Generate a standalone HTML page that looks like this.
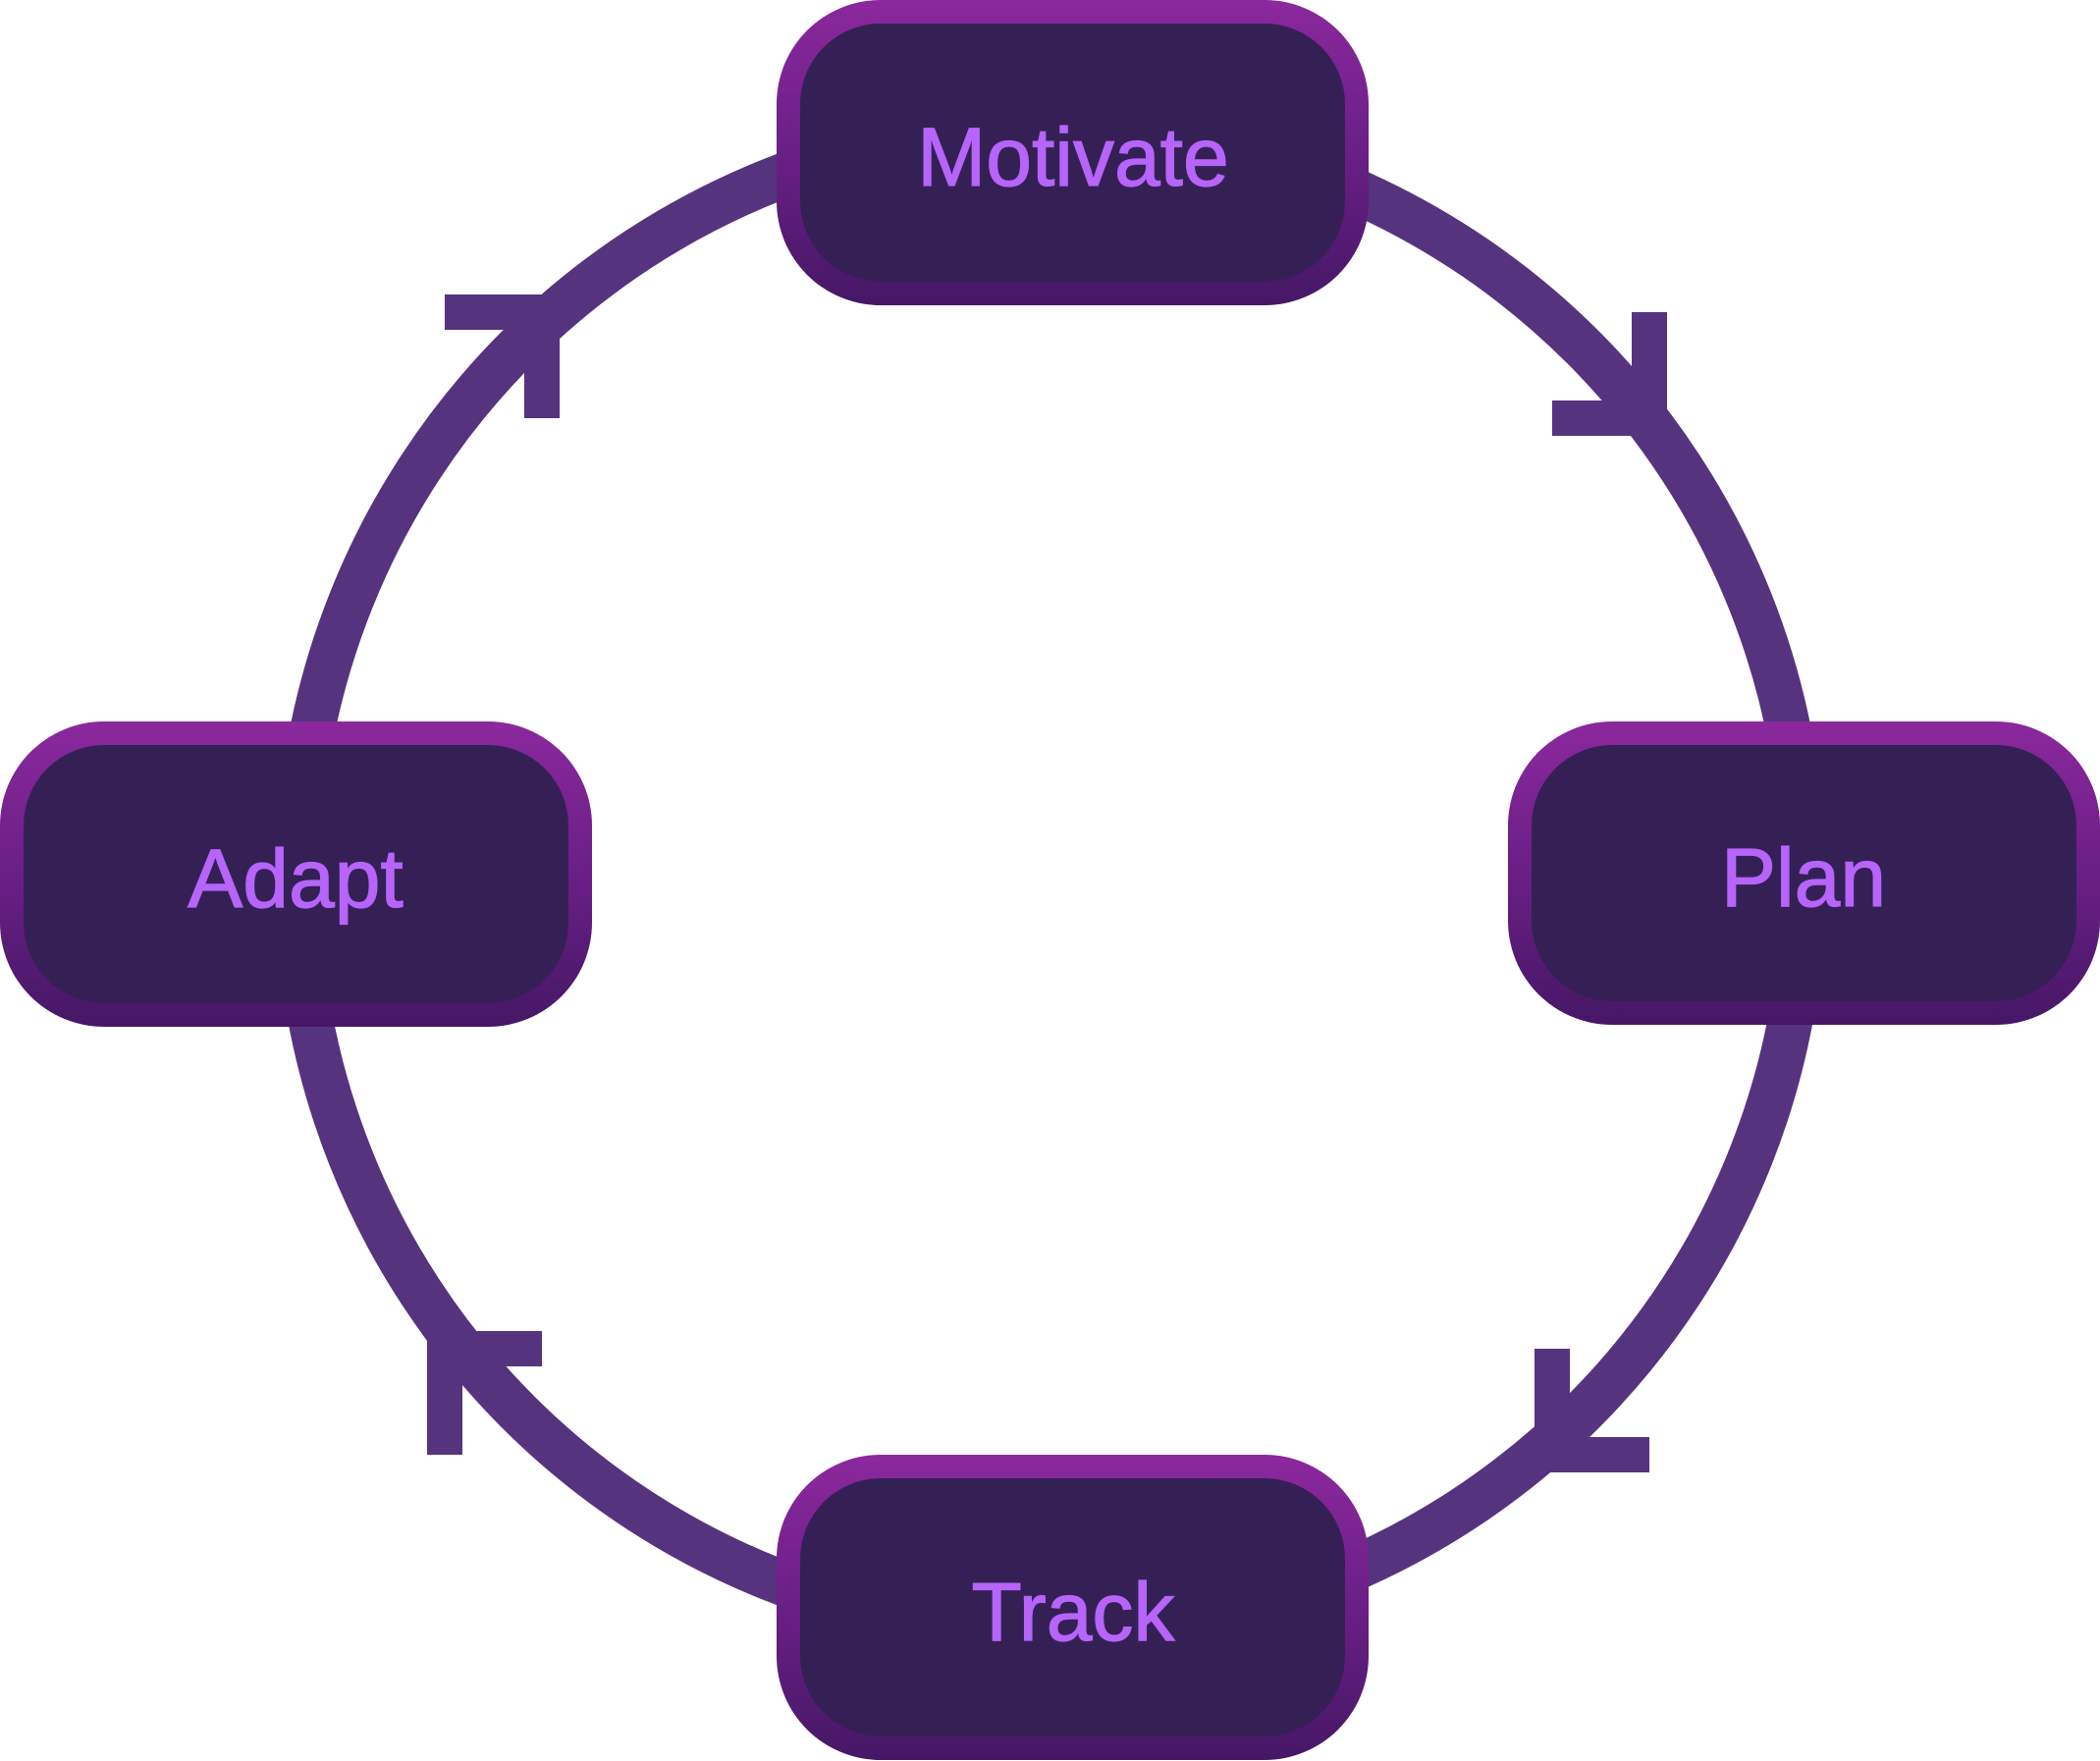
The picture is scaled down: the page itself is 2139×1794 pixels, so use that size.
<!DOCTYPE html>
<html>
<head>
<meta charset="utf-8">
<style>
  html, body { margin: 0; padding: 0; background: #ffffff; }
  body { width: 2139px; height: 1794px; overflow: hidden; }
  svg { display: block; }
  text { font-family: "Liberation Sans", Arial, Helvetica, sans-serif; font-size: 84px; fill: #b664f9; stroke: #b664f9; stroke-width: 1.2px; }
</style>
</head>
<body>
<svg width="2139" height="1794" viewBox="0 0 2139 1794" xmlns="http://www.w3.org/2000/svg">
  <defs>
    <linearGradient id="bd" x1="0" y1="0" x2="0" y2="1">
      <stop offset="0" stop-color="#8b289d"/>
      <stop offset="0.5" stop-color="#6a1f86"/>
      <stop offset="1" stop-color="#461766"/>
    </linearGradient>
  </defs>

  <!-- ring -->
  <circle cx="1070" cy="896" r="767" fill="none" stroke="#56337f" stroke-width="46"/>

  <!-- arrowheads -->
  <g fill="#56337f">
    <rect x="1662" y="318" width="36" height="126"/>
    <rect x="1581" y="408" width="117" height="36"/>
    <rect x="453" y="300" width="117" height="36"/>
    <rect x="534" y="300" width="36" height="126"/>
    <rect x="435" y="1356" width="117" height="36"/>
    <rect x="435" y="1356" width="36" height="126"/>
    <rect x="1563" y="1374" width="36" height="126"/>
    <rect x="1563" y="1464" width="117" height="36"/>
  </g>

  <!-- Motivate -->
  <g>
    <rect x="791" y="0" width="603" height="311" rx="106" ry="106" fill="url(#bd)"/>
    <rect x="815" y="24" width="555" height="263" rx="82" ry="82" fill="#352055"/>
    <text x="1093" y="189" text-anchor="middle">Motivate</text>
  </g>

  <!-- Plan -->
  <g>
    <rect x="1536" y="735" width="603" height="309" rx="106" ry="106" fill="url(#bd)"/>
    <rect x="1560" y="759" width="555" height="261" rx="82" ry="82" fill="#352055"/>
    <text x="1837" y="923" text-anchor="middle">Plan</text>
  </g>

  <!-- Adapt -->
  <g>
    <rect x="0" y="735" width="603" height="311" rx="106" ry="106" fill="url(#bd)"/>
    <rect x="24" y="759" width="555" height="263" rx="82" ry="82" fill="#352055"/>
    <text x="301" y="924" text-anchor="middle">Adapt</text>
  </g>

  <!-- Track -->
  <g>
    <rect x="791" y="1482" width="603" height="311" rx="106" ry="106" fill="url(#bd)"/>
    <rect x="815" y="1506" width="555" height="263" rx="82" ry="82" fill="#352055"/>
    <text x="1093" y="1671" text-anchor="middle">Track</text>
  </g>
</svg>
</body>
</html>
